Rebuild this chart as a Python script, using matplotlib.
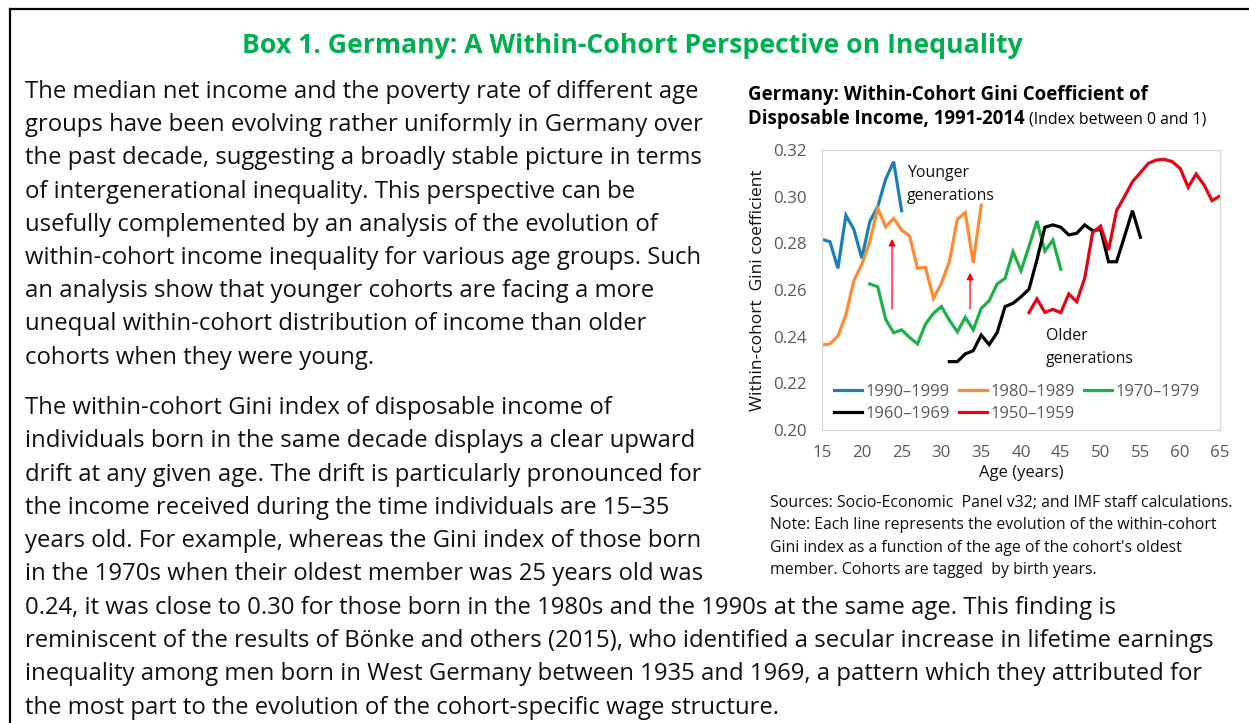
import matplotlib
matplotlib.use("Agg")
import matplotlib.pyplot as plt
from matplotlib.lines import Line2D

plt.rcParams['font.family'] = ['Open Sans', 'DejaVu Sans']

# within-cohort Gini by age of oldest cohort member
ages_1990 = list(range(15, 26))
gini_1990 = [0.2817, 0.2807, 0.2693, 0.2920, 0.2860, 0.2736, 0.2893, 0.2957, 0.3075, 0.3150, 0.2940]
ages_1980 = list(range(15, 36))
gini_1980 = [0.2364, 0.2369, 0.2403, 0.2493, 0.2640, 0.2710, 0.2807, 0.2950, 0.2871, 0.2907, 0.2857,
             0.2832, 0.2693, 0.2697, 0.2564, 0.2629, 0.2721, 0.2903, 0.2932, 0.2717, 0.2964]
ages_1970 = list(range(21, 46))
gini_1970 = [0.2626, 0.2614, 0.2474, 0.2417, 0.2429, 0.2397, 0.2369, 0.2454, 0.2500, 0.2529, 0.2471,
             0.2421, 0.2483, 0.2429, 0.2521, 0.2554, 0.2626, 0.2650, 0.2764, 0.2683, 0.2786, 0.2896,
             0.2767, 0.2814, 0.2689]
ages_1960 = list(range(31, 56))
gini_1960 = [0.2293, 0.2293, 0.2326, 0.2340, 0.2407, 0.2366, 0.2417, 0.2529, 0.2543, 0.2571, 0.2603,
             0.2729, 0.2869, 0.2879, 0.2869, 0.2836, 0.2843, 0.2879, 0.2854, 0.2860, 0.2721, 0.2721,
             0.2829, 0.2940, 0.2826]
ages_1950 = list(range(41, 66))
gini_1950 = [0.2503, 0.2562, 0.2504, 0.2517, 0.2503, 0.2583, 0.2550, 0.2650, 0.2846, 0.2874, 0.2771,
             0.2940, 0.3000, 0.3064, 0.3103, 0.3143, 0.3157, 0.3160, 0.3150, 0.3121, 0.3040, 0.3097,
             0.3050, 0.2983, 0.3003]

cohort_labels = ['1990\u20131999', '1980\u20131989', '1970\u20131979', '1960\u20131969', '1950\u20131959']
yticks = [0.20, 0.22, 0.24, 0.26, 0.28, 0.30, 0.32]
xticks = list(range(15, 70, 5))

W, H = 1249, 723
fig = plt.figure(figsize=(W / 100, H / 100), dpi=100)

def px(x, y):
    return x / W, 1 - y / H

# box border (left and top)
fig.add_artist(Line2D([10 / W, 10 / W], [0, 1 - 9 / H], color='black', lw=1.6))
fig.add_artist(Line2D([10 / W, 1], [1 - 9 / H, 1 - 9 / H], color='black', lw=1.6))

fig.text(*px(632, 53), 'Box 1. Germany: A Within-Cohort Perspective on Inequality',
         ha='center', va='baseline', fontsize=19.2, fontweight='bold', color='#00B050')

para1 = ["The median net income and the poverty rate of different age",
         "groups have been evolving rather uniformly in Germany over",
         "the past decade, suggesting a broadly stable picture in terms",
         "of intergenerational inequality. This perspective can be",
         "usefully complemented by an analysis of the evolution of",
         "within-cohort income inequality for various age groups. Such",
         "an analysis show that younger cohorts are facing a more",
         "unequal within-cohort distribution of income than older",
         "cohorts when they were young."]
para2 = ["The within-cohort Gini index of disposable income of",
         "individuals born in the same decade displays a clear upward",
         "drift at any given age. The drift is particularly pronounced for",
         "the income received during the time individuals are 15\u201335",
         "years old. For example, whereas the Gini index of those born",
         "in the 1970s when their oldest member was 25 years old was",
         "0.24, it was close to 0.30 for those born in the 1980s and the 1990s at the same age. This finding is",
         "reminiscent of the results of B\u00f6nke and others (2015), who identified a secular increase in lifetime earnings",
         "inequality among men born in West Germany between 1935 and 1969, a pattern which they attributed for",
         "the most part to the evolution of the cohort-specific wage structure."]

body_size = 17.2
for i, line in enumerate(para1):
    fig.text(*px(25, 98 + i * 33.2), line, ha='left', va='baseline', fontsize=body_size, color='#111111')
for i, line in enumerate(para2):
    fig.text(*px(25, 414 + i * 33.3), line, ha='left', va='baseline', fontsize=body_size, color='#111111')

# chart title
fig.text(*px(748, 100), 'Germany: Within-Cohort Gini Coefficient of', ha='left', va='baseline',
         fontsize=13.4, fontweight='bold', color='black')
t2 = fig.text(*px(748, 124), 'Disposable Income, 1991-2014', ha='left', va='baseline',
              fontsize=13.4, fontweight='bold', color='black')
fig.canvas.draw()
bb = t2.get_window_extent()
fig.text(bb.x1 / W + 4 / W, 1 - 124 / H, '(Index between 0 and 1)', ha='left', va='baseline',
         fontsize=11.4, color='black')

# chart
ax = fig.add_axes([822 / W, 1 - 430 / H, 398 / W, 280 / H])
series = [(ages_1990, gini_1990, '#1A80B6'),
          (ages_1980, gini_1980, '#FF8A33'),
          (ages_1970, gini_1970, '#1DB04B'),
          (ages_1960, gini_1960, '#000000'),
          (ages_1950, gini_1950, '#E30613')]
handles = []
for (a, g, c), lab in zip(series, cohort_labels):
    h, = ax.plot(a, g, color=c, lw=2.3, label=lab, solid_joinstyle='miter')
    handles.append(h)

ax.set_xlim(15, 65)
ax.set_ylim(0.20, 0.32)
ax.set_xticks(xticks)
ax.set_yticks(yticks)
ax.set_yticklabels(['%.2f' % v for v in yticks])
ax.tick_params(length=0, labelsize=12.2, labelcolor='#595959', pad=11)
for s in ax.spines.values():
    s.set_color('#D9D9D9')
    s.set_linewidth(1)
ax.set_xlabel('Age (years)', fontsize=12, color='#111111', labelpad=3)
ax.set_ylabel('Within-cohort  Gini coefficient', fontsize=12.5, color='#111111', labelpad=5)

order = [0, 3, 1, 4, 2]
leg = ax.legend([handles[i] for i in order], [cohort_labels[i] for i in order], ncol=3,
                loc='upper left', bbox_to_anchor=(0.0, 0.205), frameon=False, fontsize=12,
                handlelength=1.7, handletextpad=0.2, columnspacing=0.55, labelspacing=0.33,
                borderaxespad=0.3)
for t in leg.get_texts():
    t.set_color('#595959')

ax.annotate('', xy=(23.8, 0.2831), xytext=(23.8, 0.2507),
            arrowprops=dict(arrowstyle='-|>', color='red', lw=0.9, mutation_scale=10))
ax.annotate('', xy=(33.6, 0.2686), xytext=(33.6, 0.2507),
            arrowprops=dict(arrowstyle='-|>', color='red', lw=0.9, mutation_scale=10))
ax.text(25.7, 0.3135, 'Younger\ngenerations', ha='left', va='top', fontsize=11.4,
        color='#111111', linespacing=1.55)
ax.text(43.1, 0.2437, 'Older\ngenerations', ha='left', va='top', fontsize=11.4,
        color='#111111', linespacing=1.55)

notes = ["Sources: Socio-Economic  Panel v32; and IMF staff calculations.",
         "Note: Each line represents the evolution of the within-cohort",
         "Gini index as a function of the age of the cohort's oldest",
         "member. Cohorts are tagged  by birth years."]
for i, line in enumerate(notes):
    fig.text(*px(770, 507 + i * 22.3), line, ha='left', va='baseline', fontsize=11.4, color='#111111')

fig.savefig('out.png', dpi=100)
